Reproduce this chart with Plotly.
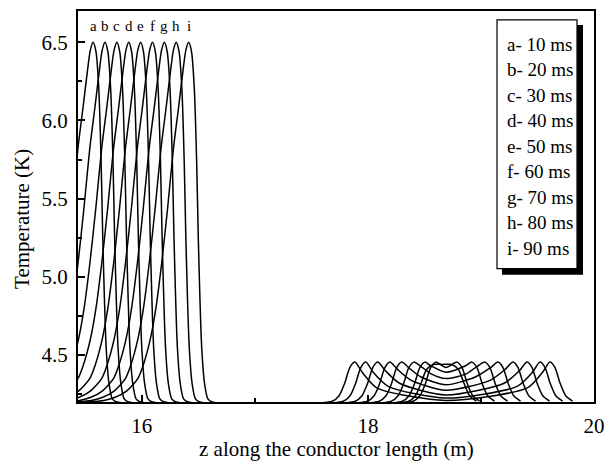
import plotly.graph_objects as go

# ---------------- data ----------------
curve_labels = ["a", "b", "c", "d", "e", "f", "g", "h", "i"]
legend_text = ["a- 10 ms", "b- 20 ms", "c- 30 ms", "d- 40 ms", "e- 50 ms",
               "f- 60 ms", "g- 70 ms", "h- 80 ms", "i- 90 ms"]

# peak positions of the travelling hot spot (left region), m
peak_z = [15.57, 15.675, 15.78, 15.885, 15.99, 16.095, 16.20, 16.305, 16.415]

# shape of the travelling hot spot: offset from peak (m) and T (K)
pulse_dz = [-0.90, -0.75, -0.65, -0.55, -0.45, -0.40, -0.34, -0.29, -0.237, -0.185,
            -0.135, -0.09, -0.05, -0.025, 0.0, 0.025, 0.05, 0.07, 0.085, 0.10,
            0.115, 0.14, 0.17, 0.21]
pulse_T = [4.20, 4.21, 4.23, 4.27, 4.35, 4.44, 4.60, 4.80, 5.10, 5.45,
           5.82, 6.08, 6.32, 6.45, 6.50, 6.44, 6.20, 5.75, 5.25, 4.85,
           4.55, 4.32, 4.22, 4.20]

# right region (two fronts spreading from ~18.7 m)
right_z = [
    [18.36, 18.42, 18.47, 18.52, 18.58, 18.66, 18.74, 18.80, 18.85, 18.90, 18.96],
    [18.40, 18.46, 18.51, 18.555, 18.60, 18.69, 18.788, 18.833, 18.878, 18.928, 18.988],
    [18.304, 18.364, 18.414, 18.459, 18.504, 18.56, 18.69, 18.86, 18.92, 18.965, 19.01, 19.06, 19.12],
    [18.207, 18.267, 18.317, 18.362, 18.407, 18.465, 18.56, 18.69, 18.87, 18.97, 19.035, 19.08, 19.125, 19.175, 19.235],
    [18.10, 18.16, 18.21, 18.255, 18.30, 18.36, 18.47, 18.69, 18.95, 19.085, 19.15, 19.195, 19.24, 19.29, 19.35],
    [17.995, 18.055, 18.105, 18.15, 18.195, 18.26, 18.38, 18.69, 19.085, 19.216, 19.283, 19.328, 19.373, 19.423, 19.483],
    [17.888, 17.948, 17.998, 18.043, 18.088, 18.155, 18.28, 18.69, 19.205, 19.34, 19.407, 19.452, 19.497, 19.547, 19.607],
    [17.782, 17.842, 17.892, 17.937, 17.982, 18.047, 18.18, 18.69, 19.32, 19.455, 19.522, 19.567, 19.612, 19.662, 19.722],
    [17.685, 17.745, 17.795, 17.84, 17.885, 17.95, 18.08, 18.69, 19.41, 19.545, 19.61, 19.655, 19.70, 19.75, 19.81],
]
right_T = [
    [4.205, 4.24, 4.32, 4.41, 4.44, 4.44, 4.44, 4.41, 4.32, 4.24, 4.205],
    [4.205, 4.24, 4.32, 4.42, 4.455, 4.42, 4.455, 4.42, 4.32, 4.24, 4.205],
    [4.205, 4.24, 4.32, 4.42, 4.455, 4.43, 4.39, 4.43, 4.455, 4.42, 4.32, 4.24, 4.205],
    [4.205, 4.24, 4.32, 4.42, 4.455, 4.43, 4.38, 4.35, 4.38, 4.43, 4.455, 4.42, 4.32, 4.24, 4.205],
    [4.205, 4.24, 4.32, 4.42, 4.455, 4.42, 4.36, 4.31, 4.36, 4.42, 4.455, 4.42, 4.32, 4.24, 4.205],
    [4.205, 4.24, 4.32, 4.42, 4.455, 4.41, 4.34, 4.275, 4.34, 4.41, 4.455, 4.42, 4.32, 4.24, 4.205],
    [4.205, 4.24, 4.32, 4.42, 4.455, 4.40, 4.32, 4.245, 4.32, 4.40, 4.455, 4.42, 4.32, 4.24, 4.205],
    [4.205, 4.24, 4.32, 4.42, 4.455, 4.39, 4.30, 4.225, 4.30, 4.39, 4.455, 4.42, 4.32, 4.24, 4.205],
    [4.205, 4.24, 4.32, 4.42, 4.455, 4.39, 4.29, 4.21, 4.29, 4.39, 4.455, 4.42, 4.32, 4.24, 4.205],
]

x_ticks = [16, 18, 20]
y_ticks = [4.5, 5.0, 5.5, 6.0, 6.5]
x_range = [15.436, 20.0]
y_range = [4.2, 6.7]

x_title = "z along the conductor length (m)"
y_title = "Temperature (K)"

# ---------------- figure ----------------
W, H = 614, 471
L, R, T, B = 78, 20, 9, 69
PW, PH = W - L - R, H - T - B
SERIF = "Liberation Serif, Times New Roman, serif"


def fx(px):
    return (px - L) / PW


def fy(py):
    return (H - B - py) / PH


fig = go.Figure()
for k, lab in enumerate(curve_labels):
    zs = [peak_z[k] + d for d in pulse_dz] + right_z[k]
    ts = list(pulse_T) + right_T[k]
    fig.add_trace(go.Scatter(
        x=zs, y=ts, mode="lines", name=lab,
        line=dict(color="black", width=1.5, shape="spline", smoothing=0.7),
        showlegend=False, hoverinfo="skip"))

axis_common = dict(
    showline=True, mirror=True, linecolor="black", linewidth=2,
    ticks="inside", tickcolor="black", tickwidth=1.5, ticklen=7,
    showgrid=False, zeroline=False,
    tickfont=dict(family=SERIF, size=21, color="black"),
)
fig.update_xaxes(range=x_range, tickvals=x_ticks, ticktext=[str(v) for v in x_ticks],
                 minor=dict(ticks="inside", ticklen=4, tickwidth=1.5, tickcolor="black",
                            tick0=16, dtick=1),
                 ticklabelstandoff=4, **axis_common)
fig.update_yaxes(range=y_range, tickvals=y_ticks, ticktext=[f"{v:.1f}" for v in y_ticks],
                 minor=dict(ticks="inside", ticklen=4, tickwidth=1.5, tickcolor="black",
                            tick0=4.25, dtick=0.25),
                 ticklabelstandoff=4, **axis_common)

shapes = [
    # legend shadow
    dict(type="rect", xref="paper", yref="paper", x0=fx(502), x1=fx(583), y0=fy(274), y1=fy(23),
         fillcolor="black", line=dict(width=0), layer="above"),
    # legend box
    dict(type="rect", xref="paper", yref="paper", x0=fx(497), x1=fx(577), y0=fy(268), y1=fy(18),
         fillcolor="white", line=dict(color="black", width=1.2), layer="above"),
]

annotations = []
for i, txt in enumerate(legend_text):
    annotations.append(dict(xref="paper", yref="paper", x=fx(505), y=fy(42.7 + i * 25.6),
                            text=txt, showarrow=False, xanchor="left", yanchor="middle",
                            font=dict(family=SERIF, size=19, color="black")))
for k, lab in enumerate(curve_labels):
    annotations.append(dict(xref="x", yref="paper", x=peak_z[k], y=fy(24),
                            text=lab, showarrow=False, xanchor="center", yanchor="middle",
                            font=dict(family=SERIF, size=15, color="black")))
annotations.append(dict(xref="paper", yref="paper", x=fx(336), y=fy(449), text=x_title,
                        showarrow=False, xanchor="center", yanchor="middle",
                        font=dict(family=SERIF, size=21, color="black")))
annotations.append(dict(xref="paper", yref="paper", x=fx(22), y=fy(218), text=y_title,
                        textangle=-90, showarrow=False, xanchor="center", yanchor="middle",
                        font=dict(family=SERIF, size=21, color="black")))

fig.update_layout(
    width=W, height=H, margin=dict(l=L, r=R, t=T, b=B),
    paper_bgcolor="white", plot_bgcolor="white",
    shapes=shapes, annotations=annotations, showlegend=False,
)

fig.write_html("out.html")
